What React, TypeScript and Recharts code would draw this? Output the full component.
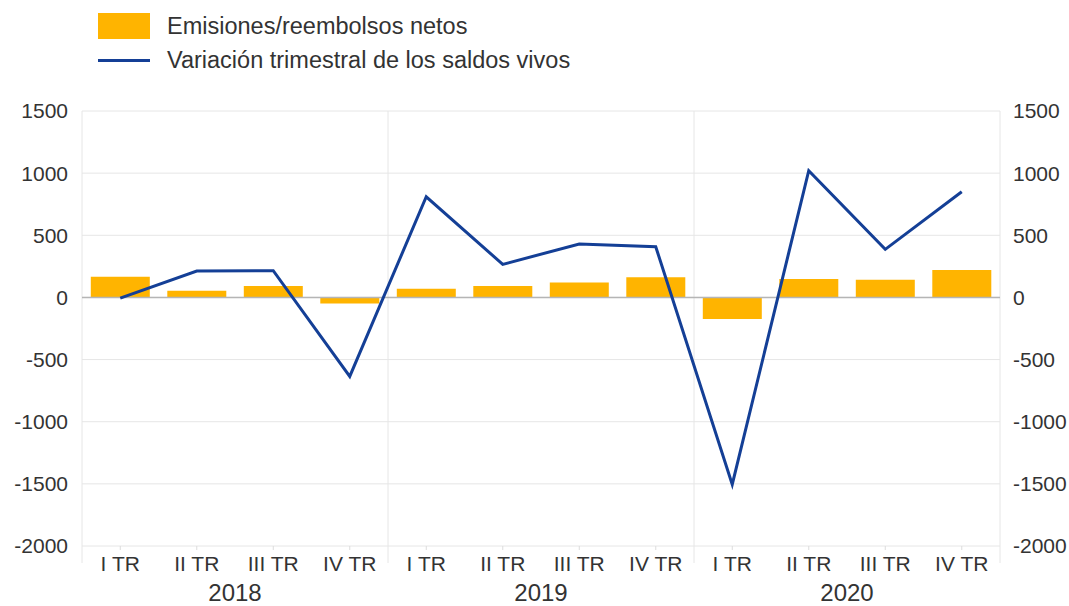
import {
  ComposedChart, Bar, Line, XAxis, YAxis, CartesianGrid,
  ReferenceLine, Legend,
} from 'recharts';

const quarters = ['I TR', 'II TR', 'III TR', 'IV TR', 'I TR', 'II TR', 'III TR', 'IV TR', 'I TR', 'II TR', 'III TR', 'IV TR'];
const years = ['2018', '2018', '2018', '2018', '2019', '2019', '2019', '2019', '2020', '2020', '2020', '2020'];
const netIssues = [167, 54, 92, -48, 70, 92, 121, 162, -174, 148, 143, 220];
const stockChange = [-5, 212, 215, -635, 810, 266, 430, 408, -1505, 1020, 387, 850];
const yTicks = [-2000, -1500, -1000, -500, 0, 500, 1000, 1500];

const data = quarters.map((q, i) => ({
  q, year: years[i], bars: netIssues[i], line: stockChange[i],
}));

const W = 1069;
const H = 606;
// plot area: x 82..1000, y 111..546
const PLOT = { top: 111, right: 69, bottom: 60, left: 82 };
const band = (W - PLOT.left - PLOT.right) / quarters.length;
const font = '"Liberation Sans", Arial, sans-serif';
const text = '#333';
const grid = '#e6e6e6';
const orange = '#FFB400';
const blue = '#143f96';

const QuarterTick = ({ x, y, index, payload }: any) => {
  const half = band / 2;
  const base = H - PLOT.bottom;
  return (
    <g>
      {index % 4 === 0 && (
        <line x1={x - half} x2={x - half} y1={base} y2={base + 17} stroke={grid} />
      )}
      {index === quarters.length - 1 && (
        <line x1={x + half} x2={x + half} y1={base} y2={base + 17} stroke={grid} />
      )}
      <text x={x} y={y} dy={19} textAnchor="middle" fill={text} fontSize={21} fontFamily={font}>
        {payload.value}
      </text>
      {index % 4 === 1 && (
        <text x={x + half} y={y} dy={49} textAnchor="middle" fill={text} fontSize={24} fontFamily={font}>
          {years[index]}
        </text>
      )}
    </g>
  );
};

const LegendBox = () => (
  <div style={{ fontFamily: font, fontSize: 23.5, color: text, position: 'relative', width: 620, height: 80 }}>
    <div style={{ position: 'absolute', left: 98, top: 13, width: 52, height: 26, background: orange }} />
    <div style={{ position: 'absolute', left: 167, top: 12, lineHeight: '28px', whiteSpace: 'nowrap' }}>
      Emisiones/reembolsos netos
    </div>
    <div style={{ position: 'absolute', left: 98, top: 59, width: 52, height: 3, background: blue }} />
    <div style={{ position: 'absolute', left: 167, top: 46, lineHeight: '28px', whiteSpace: 'nowrap' }}>
      Variación trimestral de los saldos vivos
    </div>
  </div>
);

export default function App() {
  return (
    <div style={{ position: 'absolute', left: 0, top: 0, background: '#fff' }}>
      <ComposedChart
        width={W}
        height={H}
        data={data}
        margin={{ top: PLOT.top, right: 0, bottom: 0, left: 0 }}
        barCategoryGap="11.5%"
      >
        <CartesianGrid
          yAxisId="left"
          stroke={grid}
          verticalCoordinatesGenerator={({ offset }: any) => [
            offset.left,
            offset.left + offset.width / 3,
            offset.left + (2 * offset.width) / 3,
            offset.left + offset.width,
          ]}
        />
        <XAxis
          dataKey="q"
          interval={0}
          height={PLOT.bottom}
          axisLine={false}
          tickLine={{ stroke: '#dcdcdc' }}
          tickSize={4}
          tick={<QuarterTick />}
        />
        <YAxis
          yAxisId="left"
          domain={[-2000, 1500]}
          ticks={yTicks}
          width={PLOT.left}
          axisLine={false}
          tickLine={false}
          tickMargin={8}
          tick={{ fill: text, fontSize: 21, fontFamily: font }}
        />
        <YAxis
          yAxisId="right"
          orientation="right"
          domain={[-2000, 1500]}
          ticks={yTicks}
          width={PLOT.right}
          axisLine={false}
          tickLine={false}
          tickMargin={7}
          tick={{ fill: text, fontSize: 21, fontFamily: font, textAnchor: 'start' }}
        />
        <Legend
          layout="vertical"
          align="center"
          verticalAlign="middle"
          wrapperStyle={{ top: 0, left: 0 }}
          content={<LegendBox />}
        />
        <ReferenceLine yAxisId="left" y={0} stroke="#b5b5b5" strokeWidth={1.5} />
        <Bar yAxisId="left" dataKey="bars" fill={orange} isAnimationActive={false} />
        <Line
          yAxisId="right"
          dataKey="line"
          stroke={blue}
          strokeWidth={3}
          dot={false}
          activeDot={false}
          isAnimationActive={false}
        />
      </ComposedChart>
    </div>
  );
}
